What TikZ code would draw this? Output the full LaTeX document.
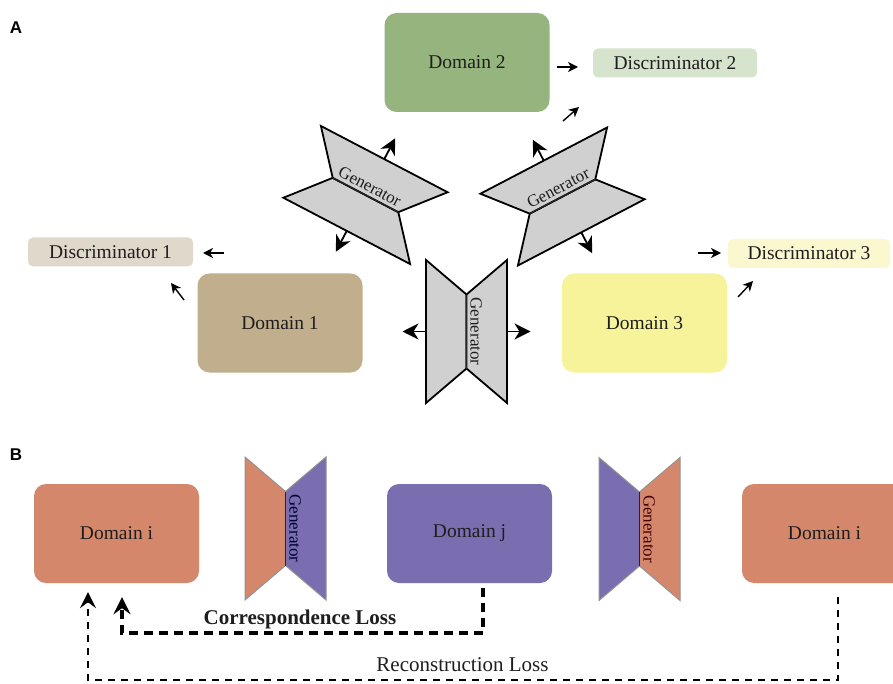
\documentclass[tikz,border=0pt]{standalone}
\usepackage{fontspec}
\setmainfont{Liberation Serif}
\newfontfamily\panelfont{Liberation Sans}
\usetikzlibrary{arrows.meta,calc}
\definecolor{txt}{HTML}{1E1E1E}
\definecolor{dtwo}{HTML}{96B57E}
\definecolor{qtwo}{HTML}{D6E3CD}
\definecolor{done}{HTML}{C1AE8C}
\definecolor{qone}{HTML}{E0D8CA}
\definecolor{dthree}{HTML}{F7F39B}
\definecolor{qthree}{HTML}{FBF8D0}
\definecolor{orng}{HTML}{D4876A}
\definecolor{purp}{HTML}{7A6DB0}
\definecolor{gengray}{HTML}{D0D0D0}
\tikzset{
  dom/.style={rounded corners=12pt, minimum width=165pt, minimum height=99pt, inner sep=0pt, font=\fontsize{19.5}{23}\selectfont, text=txt},
  disc/.style={rounded corners=5pt, minimum width=165pt, minimum height=29pt, inner sep=0pt, font=\fontsize{19.5}{23}\selectfont, text=txt},
  genA/.style={draw=black, line width=1.8pt, line join=miter},
  genB/.style={draw=gray!85, line width=1pt},
  gentext/.style={font=\fontsize{17}{20}\selectfont, inner sep=0pt, anchor=base},
  bigarrow/.style={line width=1.8pt, -{Stealth[length=16pt,width=16pt,inset=5pt]}},
  smallarrow/.style={line width=1.4pt, -{Stealth[length=10pt,width=10pt,inset=3pt]}},
  corrline/.style={line width=3.5pt, dash pattern=on 9pt off 6pt, -{Stealth[length=17pt,width=17pt,inset=6pt]}},
  recline/.style={line width=1.8pt, dash pattern=on 7pt off 6pt, -{Stealth[length=16pt,width=16pt,inset=6pt]}},
  losslabel/.style={font=\fontsize{21}{24}\selectfont, text=txt, inner sep=0pt},
  panellabel/.style={font=\panelfont\bfseries\fontsize{17}{19}\selectfont, inner sep=0pt}
}
% #1 cx, #2 cy, #3 angle, #4 left fill, #5 right fill, #6 name, #7 edge style, #8 text colour
\newcommand\drawgenerator[8]{%
  \begin{scope}[shift={(#1,#2)}, rotate=#3]
    \filldraw[#7, fill=#4] (0,-37) -- (-40.5,-71.5) -- (-40.5,71.5) -- (0,37) -- cycle;
    \filldraw[#7, fill=#5] (0,-37) -- (40.5,-71.5) -- (40.5,71.5) -- (0,37) -- cycle;
    \draw[line width=1.3pt, black!85] (0,-37) -- (0,37);
    \node[gentext, rotate=#3-90, text=#8] (#6) at (4,0) {Generator};
    \coordinate (#6-l) at (-40.5,0);
    \coordinate (#6-lt) at (-64,0);
    \coordinate (#6-r) at (40.5,0);
    \coordinate (#6-rt) at (64,0);
  \end{scope}}
\begin{document}
\begin{tikzpicture}[x=1pt,y=-1pt]
\useasboundingbox (0,0) rectangle (893,684);
\fill[white] (0,0) rectangle (893,684);

% ---------- Panel A ----------
\node[panellabel] (la) at (16,28) {A};

\node[dom, fill=dtwo] (d2) at (467,62.5) {Domain 2};
\node[disc, fill=qtwo, minimum width=164pt] (q2) at (675,63) {Discriminator 2};
\node[dom, fill=done] (d1) at (280,323) {Domain 1};
\node[disc, fill=qone] (q1) at (110.5,252) {Discriminator 1};
\node[dom, fill=dthree] (d3) at (644.5,323) {Domain 3};
\node[disc, fill=qthree, minimum width=162pt] (q3) at (809,253.5) {Discriminator 3};

\drawgenerator{365.5}{195}{62.4}{gengray}{gengray}{gtl}{genA}{txt}
\drawgenerator{562.5}{196.5}{117.6}{gengray}{gengray}{gtr}{genA}{txt}
\drawgenerator{466.5}{331.5}{0}{gengray}{gengray}{gbot}{genA}{txt}

\foreach \g in {gtl,gtr,gbot}{
  \draw[bigarrow] (\g-l) -- (\g-lt);
  \draw[bigarrow] (\g-r) -- (\g-rt);
}

% small discriminator arrows
\coordinate (a2s) at (557,67); \coordinate (a2e) at (578,67);
\coordinate (b2s) at (563,121); \coordinate (b2e) at (579,107);
\draw[smallarrow] (a2s) -- (a2e);
\draw[smallarrow] (b2s) -- (b2e);
\coordinate (a1s) at (224,253); \coordinate (a1e) at (203,253);
\coordinate (b1s) at (184,300); \coordinate (b1e) at (171,283);
\draw[smallarrow] (a1s) -- (a1e);
\draw[smallarrow] (b1s) -- (b1e);
\coordinate (a3s) at (698,253); \coordinate (a3e) at (721,253);
\coordinate (b3s) at (738,297); \coordinate (b3e) at (753,281);
\draw[smallarrow] (a3s) -- (a3e);
\draw[smallarrow] (b3s) -- (b3e);

% ---------- Panel B ----------
\node[panellabel] (lb) at (16,455) {B};

\node[dom, fill=orng] (di) at (116.5,533.5) {Domain i};
\node[dom, fill=purp] (dj) at (469.5,533.5) {Domain j};
\node[dom, fill=orng] (dk) at (824.5,533.5) {Domain i};

\drawgenerator{285.5}{528.5}{0}{orng}{purp}{gb1}{genB}{black!80!blue}
\drawgenerator{639.5}{529}{0}{purp}{orng}{gb2}{genB}{black!75!red}

\coordinate (corrlevel) at (0,633);
\coordinate (reclevel) at (0,680);
\coordinate (cs) at ([xshift=13.5pt,yshift=-5pt]dj.south);
\coordinate (ce) at ([xshift=5.5pt,yshift=-14pt]di.south);
\coordinate (rs) at ([xshift=13.5pt,yshift=-14pt]dk.south);
\coordinate (re) at ([xshift=-28.5pt,yshift=-9pt]di.south);
\draw[corrline] (cs) -- (cs |- corrlevel) -- (ce |- corrlevel) -- (ce);
\draw[recline] (rs) -- (rs |- reclevel) -- (re |- reclevel) -- (re);

\node[losslabel, font=\bfseries\fontsize{21}{24}\selectfont] (cl) at (300,619) {Correspondence Loss};
\node[losslabel] (rl) at (462.5,665) {Reconstruction Loss};
\end{tikzpicture}
\end{document}
